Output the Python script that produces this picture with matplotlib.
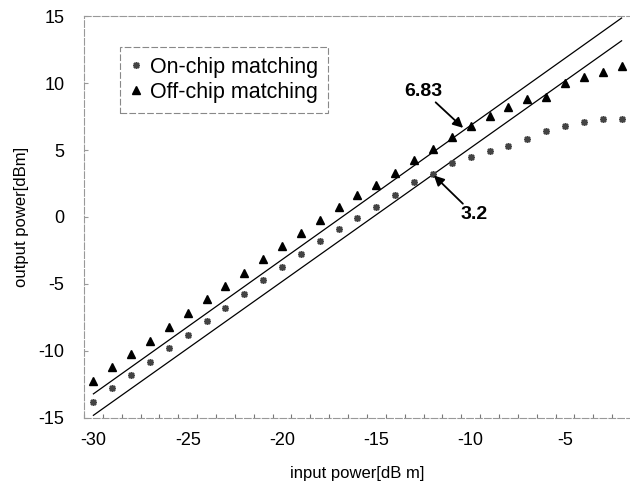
import numpy as np
import matplotlib
matplotlib.use("Agg")
import matplotlib.pyplot as plt
from matplotlib.ticker import FixedLocator

plt.rcParams['font.family'] = ['Liberation Sans', 'DejaVu Sans']
plt.rcParams['axes.unicode_minus'] = False

# input power [dBm]
pin = np.arange(-30, -1, 1)

# output power [dBm]
on_chip = [-13.78, -12.78, -11.81, -10.79, -9.78, -8.78, -7.79, -6.76, -5.72,
           -4.70, -3.71, -2.76, -1.76, -0.92, -0.08, 0.76, 1.62, 2.61, 3.21,
           4.00, 4.45, 4.95, 5.30, 5.80, 6.41, 6.78, 7.10, 7.29, 7.29]
off_chip = [-12.21, -11.20, -10.20, -9.23, -8.23, -7.13, -6.14, -5.14, -4.15,
            -3.15, -2.16, -1.16, -0.22, 0.76, 1.62, 2.41, 3.28, 4.27, 5.08,
            5.99, 6.82, 7.54, 8.20, 8.80, 8.96, 9.97, 10.47, 10.80, 11.29]

# linear (1 dB/dB) reference lines
line_x = [-30, -2]
line_upper = [-13.2, 14.85]
line_lower = [-14.8, 13.15]

xticks = [-30, -25, -20, -15, -10, -5]
yticks = [-15, -10, -5, 0, 5, 10, 15]

fig = plt.figure(figsize=(6.3, 4.91), dpi=100)
ax = fig.add_axes([0.1333, 0.1487, 0.8683, 0.8187])

ax.plot(line_x, line_upper, color='black', lw=0.9)
ax.plot(line_x, line_lower, color='black', lw=0.9)
ax.plot(pin, on_chip, linestyle='none', marker=(8, 2, 0), markersize=5,
        markeredgewidth=1.1, color='#444444', label='On-chip matching')
ax.plot(pin, off_chip, linestyle='none', marker='^', markersize=5.5,
        color='black', label='Off-chip matching')

ax.set_xlim(-30.5, -1.5)
ax.set_ylim(-15, 15)
ax.set_xticks(xticks)
ax.set_yticks(yticks)
ax.xaxis.set_minor_locator(FixedLocator(np.arange(-30.5, -1.4, 1)))
ax.tick_params(axis='x', which='major', length=0, labelsize=13, pad=10)
ax.tick_params(axis='x', which='minor', direction='in', length=3,
               color='#777777', width=0.8)
ax.tick_params(axis='y', which='major', direction='in', length=3,
               color='#999999', labelsize=13, pad=14)

for side in ['left', 'top', 'bottom']:
    ax.spines[side].set_color('#999999')
    ax.spines[side].set_linewidth(0.8)
    ax.spines[side].set_linestyle((0, (6, 2)))
ax.spines['right'].set_visible(False)

ax.set_xlabel('input power[dB m]', fontsize=12, labelpad=12)
ax.set_ylabel('output power[dBm]', fontsize=12, labelpad=7)

leg = ax.legend(loc='upper left', bbox_to_anchor=(0.066, 0.923),
                borderaxespad=0, fontsize=15.5, handlelength=0.6,
                handletextpad=0.35, borderpad=0.45, labelspacing=0.2,
                fancybox=False, framealpha=1)
leg.get_frame().set_edgecolor('#888888')
leg.get_frame().set_linewidth(0.8)
leg.get_frame().set_linestyle((0, (6, 2)))

ax.annotate('6.83', xy=(-10.4, 6.65), xytext=(-12.5, 9.4),
            fontsize=14, fontweight='bold', ha='center', va='center',
            arrowprops=dict(arrowstyle='-|>', color='black', lw=1.3,
                            shrinkA=0, shrinkB=0, mutation_scale=15))
ax.annotate('3.2', xy=(-11.95, 3.1), xytext=(-9.8, 0.15),
            fontsize=14, fontweight='bold', ha='center', va='center',
            arrowprops=dict(arrowstyle='-|>', color='black', lw=1.3,
                            shrinkA=0, shrinkB=0, mutation_scale=15))

fig.savefig('out.png', dpi=100)
